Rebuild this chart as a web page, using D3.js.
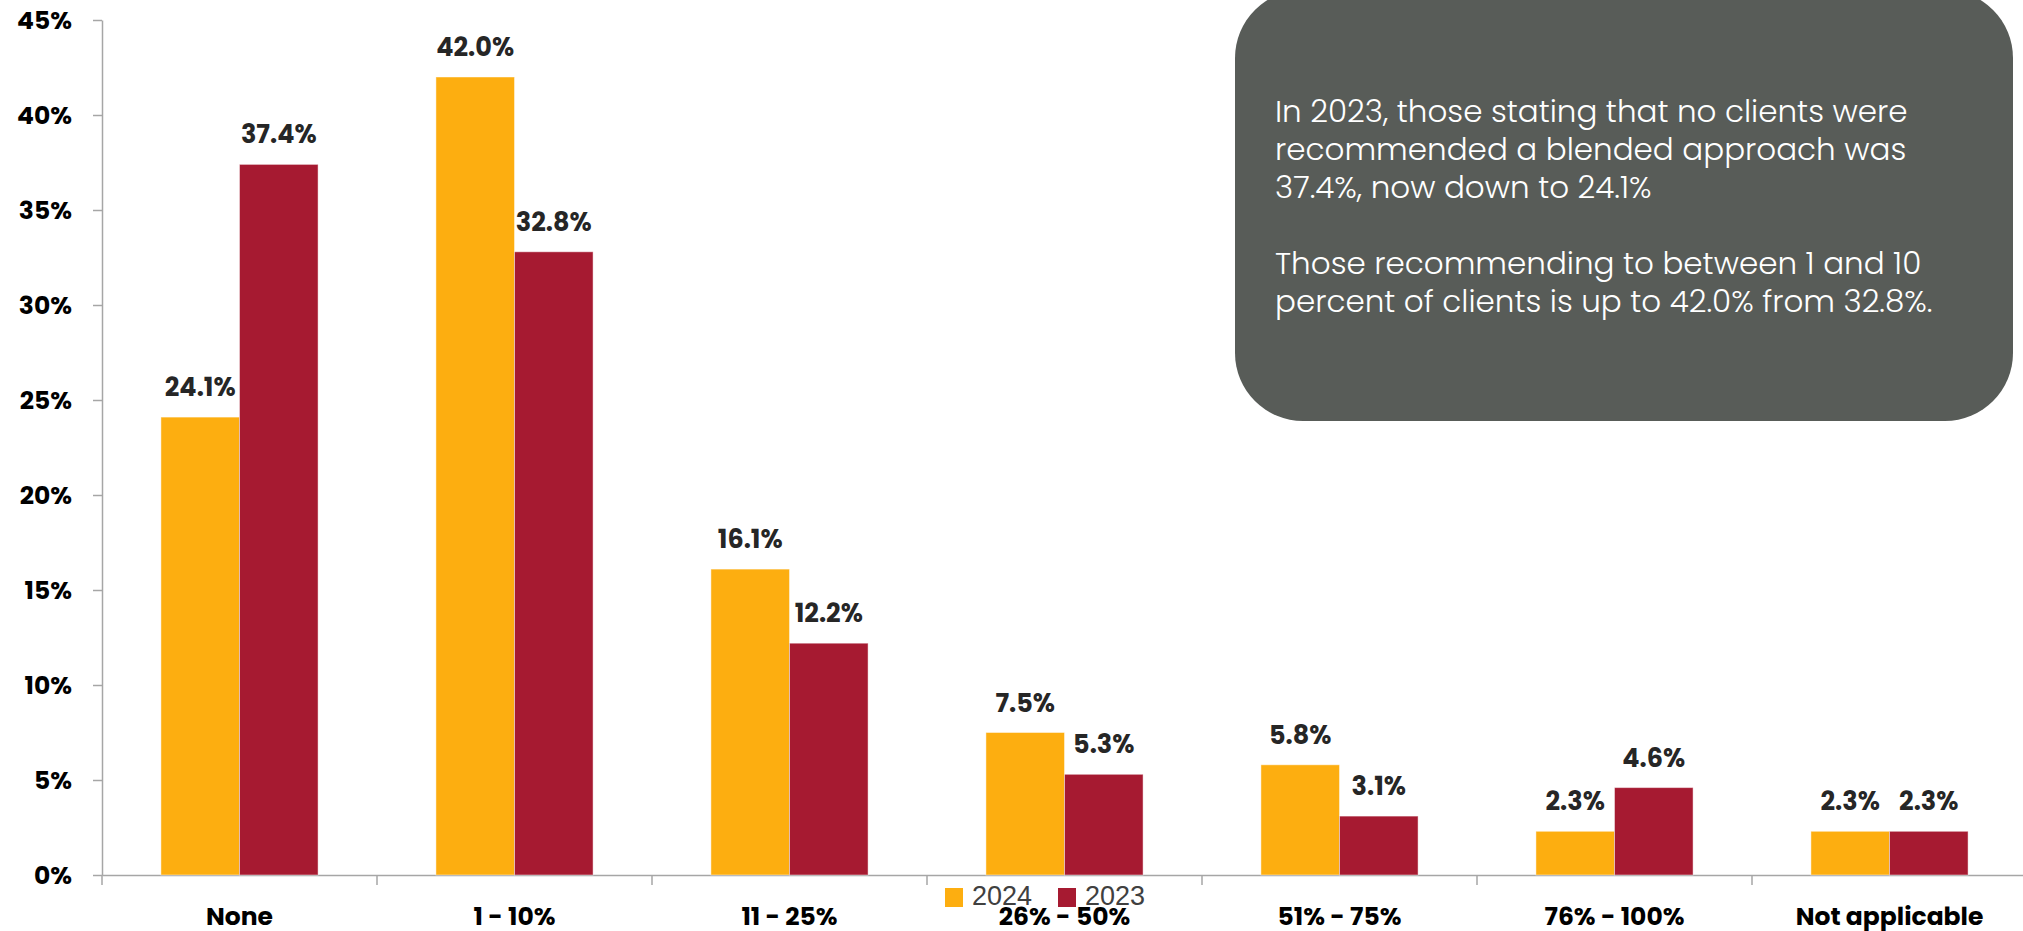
<!DOCTYPE html>
<html>
<head>
<meta charset="utf-8">
<script src="https://cdn.jsdelivr.net/npm/d3@7"></script>
<style>
  html, body { margin: 0; padding: 0; background: #ffffff; }
  svg { display: block; }
  .axis text { font-family: Poppins, Inter, "Open Sans", sans-serif; font-weight: 700; fill: #000; }
  .axis path, .axis line { stroke: #a6a6a6; stroke-width: 1.5; }
</style>
</head>
<body>
<svg id="chart" width="2023" height="931"></svg>
<script>
// Share of clients recommended a blended approach, by year
const categories = ["None", "1 - 10%", "11 - 25%", "26% - 50%", "51% - 75%", "76% - 100%", "Not applicable"];
const seriesNames = ["2024", "2023"];
const values2024 = [24.1, 42.0, 16.1, 7.5, 5.8, 2.3, 2.3];
const values2023 = [37.4, 32.8, 12.2, 5.3, 3.1, 4.6, 2.3];
const yTicks = [0, 5, 10, 15, 20, 25, 30, 35, 40, 45];
const noteLines = [
  "In 2023, those stating that no clients were",
  "recommended a blended approach was",
  "37.4%, now down to 24.1%",
  "",
  "Those recommending to between 1 and 10",
  "percent of clients is up to 42.0% from 32.8%."
];

const colors = { "2024": "#FDAE10", "2023": "#A61A31" };
const seriesValues = { "2024": values2024, "2023": values2023 };

const svg = d3.select("#chart");

const x0 = d3.scaleBand().domain(categories).range([102, 2027]).paddingInner(0).paddingOuter(0);
const x1 = d3.scaleBand().domain(seriesNames).range([0, x0.bandwidth()]).paddingInner(0).paddingOuter(0.75);
const y = d3.scaleLinear().domain([0, 45]).range([875, 20]);

// y axis
const yAxis = svg.append("g")
  .attr("class", "axis")
  .attr("transform", "translate(102,0)")
  .call(d3.axisLeft(y).tickValues(yTicks).tickSize(9).tickSizeOuter(0).tickPadding(21).tickFormat(d => d + "%"));
yAxis.selectAll("text").style("font-size", "25px").attr("dy", "0.35em");

// x axis line with category labels
const xAxis = svg.append("g")
  .attr("class", "axis")
  .attr("transform", "translate(0,875)")
  .call(d3.axisBottom(x0).tickSize(0).tickSizeOuter(0));
xAxis.selectAll("text").style("font-size", "25px").attr("y", 50).attr("dy", "0");

// boundary ticks between categories
const bounds = categories.map(c => x0(c)).concat([x0.range()[1]]);
xAxis.selectAll("line.bound")
  .data(bounds)
  .join("line")
  .attr("class", "bound")
  .attr("x1", d => d).attr("x2", d => d)
  .attr("y1", 0).attr("y2", 10);

// legend
const legend = svg.append("g").attr("transform", "translate(945,888)");
const legendOffsets = [0, 113];
seriesNames.forEach((s, i) => {
  const g = legend.append("g").attr("transform", `translate(${legendOffsets[i]},0)`);
  g.append("rect").attr("width", 18).attr("height", 19).attr("fill", colors[s]);
  g.append("text")
    .attr("x", 27).attr("y", 17)
    .style("font-family", "'Liberation Sans', Arial, sans-serif")
    .style("font-size", "27px")
    .style("fill", "#404040")
    .text(s);
});
// keep category labels above legend
xAxis.raise();

// bars
const groups = svg.append("g").selectAll("g")
  .data(categories)
  .join("g")
  .attr("transform", d => `translate(${x0(d)},0)`);

groups.selectAll("rect")
  .data((c, i) => seriesNames.map(s => ({ s, v: seriesValues[s][i] })))
  .join("rect")
  .attr("x", d => x1(d.s))
  .attr("width", x1.bandwidth())
  .attr("y", d => y(d.v))
  .attr("height", d => y(0) - y(d.v))
  .attr("fill", d => colors[d.s])
  .attr("stroke", "rgba(255,255,255,0.45)")
  .attr("stroke-width", 1);

groups.selectAll("text")
  .data((c, i) => seriesNames.map(s => ({ s, v: seriesValues[s][i] })))
  .join("text")
  .attr("x", d => x1(d.s) + x1.bandwidth() / 2)
  .attr("y", d => y(d.v) - 21)
  .attr("text-anchor", "middle")
  .style("font-family", "Poppins, Inter, 'Open Sans', sans-serif")
  .style("font-weight", 700)
  .style("font-size", "25.5px")
  .style("fill", "#262626")
  .text(d => d.v.toFixed(1) + "%");

// annotation box
const note = svg.append("g");
note.append("rect")
  .attr("x", 1235).attr("y", -10)
  .attr("width", 778).attr("height", 431)
  .attr("rx", 68).attr("ry", 68)
  .attr("fill", "#585C58");
note.selectAll("text")
  .data(noteLines)
  .join("text")
  .attr("x", 1275)
  .attr("y", (d, i) => 122 + i * 38)
  .style("font-family", "Poppins, 'Open Sans', sans-serif")
  .style("font-weight", 300)
  .style("font-size", "31px")
  .style("fill", "#ffffff")
  .text(d => d);
</script>
</body>
</html>
